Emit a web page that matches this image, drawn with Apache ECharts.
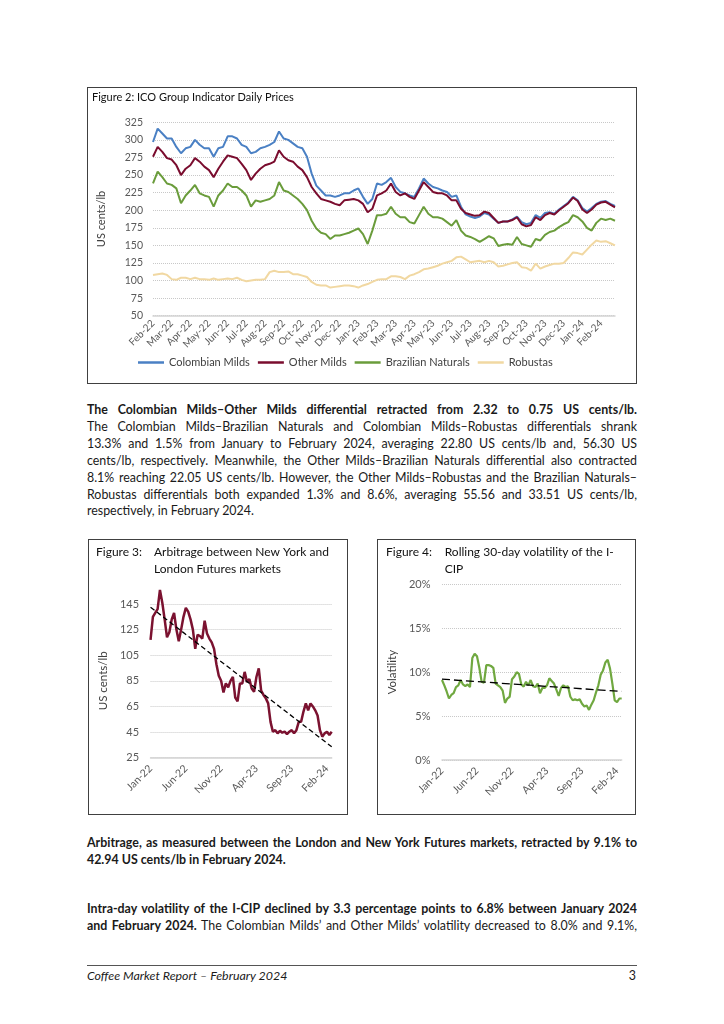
<!DOCTYPE html>
<html><head><meta charset="utf-8">
<script src="https://cdn.jsdelivr.net/npm/echarts@6.0.0/dist/echarts.min.js"></script>
<style>
html,body{margin:0;padding:0;background:#fff;}
body{width:724px;height:1024px;position:relative;overflow:hidden;font-family:Lato,"Open Sans",sans-serif;color:#1a1a1a;}
.box{position:absolute;border:1px solid #404040;box-sizing:border-box;}
.txt{position:absolute;left:87px;width:550px;font-size:12.4px;line-height:16.9px;}
.j{text-align:justify;text-align-last:justify;white-space:nowrap;}
.l{white-space:nowrap;}
b{font-weight:700;}
#rule{position:absolute;left:87px;top:965px;width:550px;height:1px;background:#555;}
#foot{position:absolute;left:87px;top:968px;width:550px;font-size:12.4px;font-style:italic;}
#pg{position:absolute;right:88px;top:968px;font-size:12.4px;}
</style></head><body>
<div id="c2" class="box" style="left:87px;top:87px;width:550px;height:297px"></div>

<div class="txt" style="top:402px">
<div class="j"><b>The Colombian Milds–Other Milds differential retracted from 2.32 to 0.75 US cents/lb.</b></div>
<div class="j">The Colombian Milds–Brazilian Naturals and Colombian Milds–Robustas differentials shrank</div>
<div class="j">13.3% and 1.5% from January to February 2024, averaging 22.80 US cents/lb and, 56.30 US</div>
<div class="j">cents/lb, respectively. Meanwhile, the Other Milds–Brazilian Naturals differential also contracted</div>
<div class="j">8.1% reaching 22.05 US cents/lb. However, the Other Milds–Robustas and the Brazilian Naturals–</div>
<div class="j">Robustas differentials both expanded 1.3% and 8.6%, averaging 55.56 and 33.51 US cents/lb,</div>
<div class="l">respectively, in February 2024.</div>
</div>

<div id="c3" class="box" style="left:88px;top:539px;width:260px;height:276px"></div>
<div id="c4" class="box" style="left:377px;top:539px;width:259px;height:276px"></div>

<div class="txt" style="top:835px">
<div class="j"><b>Arbitrage, as measured between the London and New York Futures markets, retracted by 9.1% to</b></div>
<div class="l"><b>42.94 US cents/lb in February 2024.</b></div>
</div>
<div class="txt" style="top:901px">
<div class="j"><b>Intra-day volatility of the I-CIP declined by 3.3 percentage points to 6.8% between January 2024</b></div>
<div class="j"><b>and February 2024.</b> The Colombian Milds’ and Other Milds’ volatility decreased to 8.0% and 9.1%,</div>
</div>

<div id="rule"></div>
<div id="foot">Coffee Market Report – February 2024</div>
<div id="pg">3</div>

<script>
// ---------- Figure 2 data (4 readings per month, Feb-22 .. Feb-24) ----------
const months2 = ['Feb-22','Mar-22','Apr-22','May-22','Jun-22','Jul-22','Aug-22','Sep-22','Oct-22','Nov-22','Dec-22','Jan-23','Feb-23','Mar-23','Apr-23','May-23','Jun-23','Jul-23','Aug-23','Sep-23','Oct-23','Nov-23','Dec-23','Jan-24','Feb-24'];
const colombianMilds = [297,316,309,302,302,290,281,288,290,300,293,288,288,276,288,290,305,305,302,293,290,281,283,288,290,293,297,312,302,300,295,290,288,276,252,235,228,221,221,219,221,224,224,228,231,219,209,216,238,236,240,246,233,226,224,221,219,231,245,238,233,231,228,226,219,221,205,
  194,191,189,191,196,194,188,182,184,184,187,191,183,180,182,193,189,196,197,195,201,206,211,219,214,203,198,203,209,212,213,209,206];
const otherMilds = [276,290,283,274,272,264,250,259,264,274,269,262,257,247,259,269,278,276,274,266,257,243,252,259,264,266,269,285,276,271,269,262,257,247,233,224,216,214,212,209,207,214,215,216,214,209,197,202,221,224,228,238,226,221,224,219,216,228,240,233,226,224,224,221,214,214,202,
  196,194,192,193,198,196,189,182,184,184,186,190,180,177,179,190,186,193,196,194,200,205,210,218,213,201,196,201,208,211,212,208,204];
const brazilianNaturals = [238,255,247,238,236,231,210,221,228,236,224,221,219,205,221,228,238,233,233,228,221,205,214,212,214,216,221,240,228,226,221,216,209,200,185,174,168,166,159,164,164,166,168,171,174,166,152,171,193,193,195,205,195,190,190,183,181,193,205,195,190,190,188,183,178,186,171,
  164,162,159,155,159,163,160,149,151,152,151,162,152,150,148,159,157,165,169,171,176,180,183,193,190,184,175,171,182,188,186,188,185];
const robustas = [108,109,110,108,102,101,104,104,102,104,102,102,101,103,101,102,103,102,104,101,99,100,101,101,102,112,114,112,112,113,109,109,107,105,98,94,93,93,90,91,92,93,93,92,90,93,95,98,101,102,102,106,106,105,102,107,109,112,116,117,119,121,124,126,128,133,134,
  130,126,127,128,126,128,126,120,121,123,125,126,119,118,114,124,117,120,122,124,124,125,132,140,139,137,144,151,157,155,156,153,150];
const yTicks2 = {min:50, max:325, step:25};

// ---------- Figures 3 & 4 data (3 readings per month, Jan-22 .. Feb-24) ----------
const months34 = ['Jan-22','Feb-22','Mar-22','Apr-22','May-22','Jun-22','Jul-22','Aug-22','Sep-22','Oct-22','Nov-22','Dec-22','Jan-23','Feb-23','Mar-23','Apr-23','May-23','Jun-23','Jul-23','Aug-23','Sep-23','Oct-23','Nov-23','Dec-23','Jan-24','Feb-24'];
const arbitrage = [117,135,138,141,156,146,133,119,123,133,138,125,116,125,135,142,139,133,125,110,121,120,118,132,122,118,115,110,98,89,85,76,83,80,85,88,72,69,83,83,92,84,86.5,79,76.5,88,94.7,77.5,74,71.3,67.4,53,45.3,46.5,44,46,44.5,45.3,43.4,45.3,46.5,44,46.5,53,53,61,67.4,62,67.4,65,62,58,46.5,41.4,44,45.3,42.7,45.3];
const arbitrageTrend = [142.5, 33.5];
const volatility = [9.1,8.5,7.8,7.0,7.4,7.6,8.3,8.5,9.1,8.6,8.4,8.6,8.3,11.6,12.1,11.8,10.5,8.9,8.8,10.8,10.8,10.7,10.5,8.7,8.5,8.3,7.9,6.5,7.0,7.2,9.2,9.5,10.0,9.8,8.6,8.35,8.9,8.5,9.1,8.4,8.3,8.7,7.6,8.2,8.2,8.5,9.3,9.0,8.7,8.0,7.3,8.2,8.5,8.3,8.4,7.2,6.8,6.9,6.8,6.9,6.4,6.1,6.2,5.7,6.3,6.8,7.7,8.5,9.7,10.2,11.1,11.4,10.4,8.7,6.8,6.6,7.0,7.0];
const volatilityTrend = [9.2, 7.8];

// category lists built from the month lists
const cats2 = [];
months2.forEach(m => { for (let w = 0; w < 4; w++) cats2.push(w === 0 ? m : m + ' w' + (w + 1)); });
const cats34 = [];
months34.forEach(m => { for (let w = 0; w < 3; w++) cats34.push(w === 0 ? m : m + ' p' + (w + 1)); });

const FONT = 'Lato';
const labelGrey = '#595959';
const gridLine = {show:true, lineStyle:{type:'dotted', color:'#c8c8c8', width:1}};

function lineSeries(name, data, color, width) {
  return {name, type:'line', data, showSymbol:false, symbol:'none', clip:false,
    lineStyle:{color, width}, itemStyle:{color}, emphasis:{disabled:true}};
}
function trendSeries(ends, n, dash) {
  return {type:'line', data:[[0, ends[0]], [n - 1, ends[1]]], showSymbol:false, symbol:'none',
    lineStyle:{color:'#000', width:1.3, type:dash}, itemStyle:{color:'#000'}, z:5, emphasis:{disabled:true}};
}

// ---------- Figure 2 ----------
const c2 = echarts.init(document.getElementById('c2'));
c2.setOption({
  animation:false,
  textStyle:{fontFamily:FONT},
  title:{text:'Figure 2: ICO Group Indicator Daily Prices', left:4, top:4, padding:0,
    textStyle:{fontFamily:FONT, fontSize:11, fontWeight:'normal', color:'#111'}},
  grid:{left:60, top:34.3, width:467, height:193.4},
  legend:{left:45, top:264, icon:'rect', itemWidth:26, itemHeight:2.5, itemGap:8,
    textStyle:{fontFamily:FONT, fontSize:11, color:'#404040'},
    data:['Colombian Milds','Other Milds','Brazilian Naturals','Robustas']},
  xAxis:{type:'category', data:cats2, boundaryGap:false,
    axisLine:{lineStyle:{color:'#d4d4d4', width:1.5}}, axisTick:{show:false},
    axisLabel:{interval:(i) => i % 4 === 0, formatter:(v) => v.split(' ')[0], rotate:45,
      fontFamily:FONT, fontSize:10, color:labelGrey, margin:6}},
  yAxis:{type:'value', min:yTicks2.min, max:yTicks2.max, interval:yTicks2.step,
    axisLine:{show:false}, axisTick:{show:false}, splitLine:gridLine,
    axisLabel:{fontFamily:FONT, fontSize:10.5, color:labelGrey, margin:10},
    name:'US cents/lb', nameLocation:'middle', nameGap:46, nameRotate:90,
    nameTextStyle:{fontFamily:FONT, fontSize:11, color:'#404040'}},
  series:[
    lineSeries('Colombian Milds', colombianMilds, '#4a80c4', 2),
    lineSeries('Other Milds', otherMilds, '#7a0c2e', 2),
    lineSeries('Brazilian Naturals', brazilianNaturals, '#6a9c3b', 2),
    lineSeries('Robustas', robustas, '#f1d8a2', 2)
  ]
});

// ---------- Figure 3 ----------
const titleStyle = {fontFamily:FONT, fontSize:12, fontWeight:'normal', color:'#111', lineHeight:16.5};
const c3 = echarts.init(document.getElementById('c3'));
c3.setOption({
  animation:false,
  textStyle:{fontFamily:FONT},
  title:[{text:'Figure 3:', left:7, top:4, padding:0, textStyle:titleStyle},
         {text:'Arbitrage between New York and\nLondon Futures markets', left:65, top:4, padding:0, textStyle:titleStyle}],
  grid:{left:50.3, top:64, width:192.4, height:153.7},
  xAxis:{type:'category', data:cats34, boundaryGap:false,
    axisLine:{lineStyle:{color:'#d4d4d4', width:1.5}}, axisTick:{show:false},
    axisLabel:{interval:(i) => i % 15 === 0, formatter:(v) => v.split(' ')[0], rotate:45,
      fontFamily:FONT, fontSize:10.5, color:labelGrey, margin:9}},
  yAxis:{type:'value', min:25, max:145, interval:20,
    axisLine:{show:false}, axisTick:{show:false}, splitLine:gridLine,
    axisLabel:{fontFamily:FONT, fontSize:11, color:labelGrey, margin:11.5},
    name:'US cents/lb', nameLocation:'middle', nameGap:38, nameRotate:90,
    nameTextStyle:{fontFamily:FONT, fontSize:11.5, color:'#404040'}},
  series:[
    lineSeries('Arbitrage', arbitrage, '#7b1230', 2.5),
    trendSeries(arbitrageTrend, cats34.length, [5, 3])
  ]
});

// ---------- Figure 4 ----------
const c4 = echarts.init(document.getElementById('c4'));
c4.setOption({
  animation:false,
  textStyle:{fontFamily:FONT},
  title:[{text:'Figure 4:', left:8, top:4, padding:0, textStyle:titleStyle},
         {text:'Rolling 30-day volatility of the I-\nCIP', left:66.7, top:4, padding:0, textStyle:titleStyle}],
  grid:{left:51.7, top:44.3, width:192, height:175.7},
  xAxis:{type:'category', data:cats34, boundaryGap:false,
    axisLine:{lineStyle:{color:'#d4d4d4', width:1.5}}, axisTick:{show:false},
    axisLabel:{interval:(i) => i % 15 === 0, formatter:(v) => v.split(' ')[0], rotate:45,
      fontFamily:FONT, fontSize:10.5, color:labelGrey, margin:9}},
  yAxis:{type:'value', min:0, max:20, interval:5,
    axisLine:{show:false}, axisTick:{show:false}, splitLine:gridLine,
    axisLabel:{formatter:'{value}%', fontFamily:FONT, fontSize:11, color:labelGrey, margin:11.5},
    name:'Volatility', nameLocation:'middle', nameGap:38, nameRotate:90,
    nameTextStyle:{fontFamily:FONT, fontSize:11.5, color:'#404040'}},
  series:[
    lineSeries('Volatility', volatility, '#70a840', 2.2),
    trendSeries(volatilityTrend, cats34.length, [8, 4])
  ]
});
</script>
</body></html>
